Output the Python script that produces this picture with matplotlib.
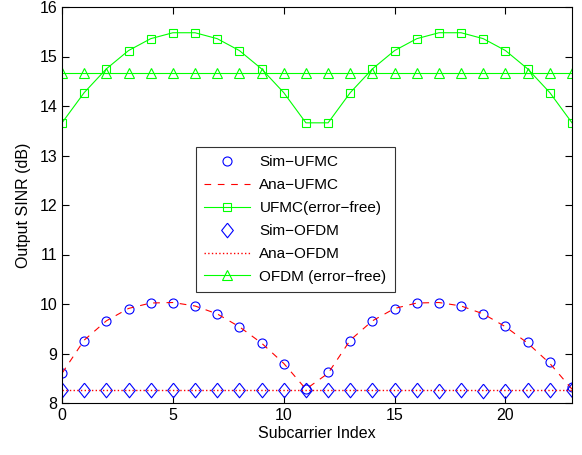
import numpy as np
import matplotlib.pyplot as plt

plt.rcParams['font.family'] = ['Liberation Sans', 'DejaVu Sans']

# subcarrier index
subcarrier = np.arange(24)

# simulated / analytical output SINR (dB)
sim_ufmc = [8.61, 9.26, 9.66, 9.90, 10.02, 10.03, 9.96, 9.79, 9.53, 9.21, 8.79, 8.28,
            8.62, 9.26, 9.66, 9.90, 10.02, 10.03, 9.96, 9.80, 9.56, 9.23, 8.83, 8.32]
ana_ufmc = [8.60, 9.27, 9.66, 9.91, 10.02, 10.03, 9.96, 9.80, 9.54, 9.21, 8.80, 8.28,
            8.60, 9.27, 9.66, 9.91, 10.02, 10.03, 9.96, 9.80, 9.54, 9.21, 8.80, 8.28]
ufmc_free = [13.66, 14.27, 14.75, 15.12, 15.36, 15.48, 15.48, 15.36, 15.12, 14.75, 14.27, 13.66,
             13.66, 14.27, 14.75, 15.12, 15.36, 15.48, 15.48, 15.36, 15.12, 14.75, 14.27, 13.66]
sim_ofdm = [8.27, 8.27, 8.26, 8.27, 8.26, 8.27, 8.27, 8.26, 8.27, 8.26, 8.27, 8.27,
            8.27, 8.26, 8.27, 8.26, 8.27, 8.25, 8.26, 8.25, 8.25, 8.26, 8.26, 8.27]
ana_ofdm = [8.27] * 24
ofdm_free = [14.67] * 24

# matlab-style diamond: a bit taller than wide
diamond = [(0, 1.25), (1, 0), (0, -1.25), (-1, 0), (0, 1.25)]


def main():
    fig = plt.figure(figsize=(5.82, 4.55), dpi=100)
    ax = fig.add_axes([62 / 582, 1 - 403 / 455, 510 / 582, 396 / 455])

    ax.plot(subcarrier, sim_ufmc, 'o', color='blue', mfc='none', ms=6.5, mew=0.8,
            label='Sim\u2212UFMC')
    ax.plot(subcarrier, ana_ufmc, '--', color='red', lw=0.8, dashes=(6, 6),
            label='Ana\u2212UFMC')
    ax.plot(subcarrier, ufmc_free, '-s', color='#00ff00', mfc='none', ms=6, mew=0.8,
            lw=0.8, label='UFMC(error\u2212free)')
    ax.plot(subcarrier, sim_ofdm, linestyle='none', marker=diamond, color='blue',
            mfc='none', ms=10.5, mew=0.8, label='Sim\u2212OFDM')
    ax.plot(subcarrier, ana_ofdm, ':', color='red', lw=1.0, label='Ana\u2212OFDM')
    ax.plot(subcarrier, ofdm_free, '-^', color='#00ff00', mfc='none', ms=7, mew=0.8,
            lw=0.8, label='OFDM (error\u2212free)')

    ax.set_xlim(0, 23)
    ax.set_ylim(8, 16)
    ax.set_xticks([0, 5, 10, 15, 20])
    ax.set_yticks(range(8, 17))
    ax.tick_params(direction='in', top=True, right=True, labelsize=11.5, length=5, width=0.8)
    ax.set_xlabel('Subcarrier Index', fontsize=11.5, labelpad=2)
    ax.set_ylabel('Output SINR (dB)', fontsize=11.5, labelpad=6)

    leg = ax.legend(loc='upper left', bbox_to_anchor=((196 - 62) / 510, (403 - 147) / 396),
                    fontsize=11, frameon=True, fancybox=False, edgecolor='black',
                    handlelength=3.0, borderpad=0.55, labelspacing=0.58, handletextpad=0.6,
                    borderaxespad=0)
    leg.get_frame().set_linewidth(0.8)

    fig.savefig('out.png', dpi=100)


if __name__ == '__main__':
    main()
